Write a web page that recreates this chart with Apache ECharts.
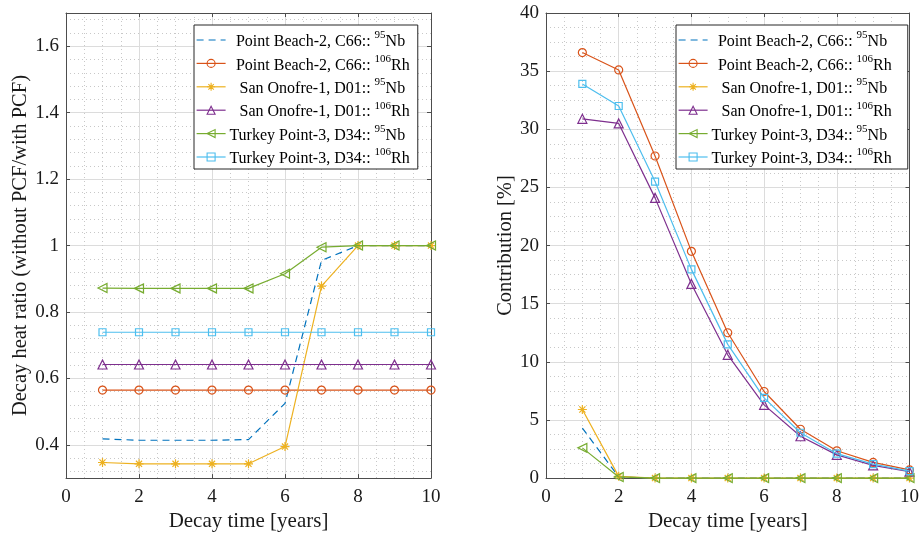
<!DOCTYPE html>
<html>
<head>
<meta charset="utf-8">
<script src="https://cdn.jsdelivr.net/npm/echarts@6/dist/echarts.min.js"></script>
<style>
html,body{margin:0;padding:0;background:#fff;}
#chart{width:922px;height:537px;}
</style>
</head>
<body>
<div id="chart"></div>
<script>
// ---- data ----
const years = [1, 2, 3, 4, 5, 6, 7, 8, 9, 10];
const sites = ['Point Beach-2, C66::', 'Point Beach-2, C66::', 'San Onofre-1, D01::', 'San Onofre-1, D01::', 'Turkey Point-3, D34::', 'Turkey Point-3, D34::'];
const massNumbers = ['95', '106', '95', '106', '95', '106'];
const elements = ['Nb', 'Rh', 'Nb', 'Rh', 'Nb', 'Rh'];

// left: decay heat ratio (without PCF / with PCF)
const ratioPB_Nb = [0.418, 0.414, 0.414, 0.414, 0.416, 0.525, 0.955, 1.0, 1.0, 1.0];
const ratioPB_Rh = [0.565, 0.565, 0.565, 0.565, 0.565, 0.565, 0.565, 0.565, 0.565, 0.565];
const ratioSO_Nb = [0.347, 0.343, 0.343, 0.343, 0.343, 0.395, 0.878, 1.0, 1.0, 1.0];
const ratioSO_Rh = [0.642, 0.642, 0.642, 0.642, 0.642, 0.642, 0.642, 0.642, 0.642, 0.642];
const ratioTP_Nb = [0.872, 0.871, 0.871, 0.871, 0.871, 0.915, 0.995, 1.0, 1.0, 1.0];
const ratioTP_Rh = [0.739, 0.739, 0.739, 0.739, 0.739, 0.739, 0.739, 0.739, 0.739, 0.739];

// right: contribution [%]
const contribPB_Nb = [4.3, 0.1, 0, 0, 0, 0, 0, 0, 0, 0];
const contribPB_Rh = [36.6, 35.1, 27.7, 19.5, 12.5, 7.45, 4.2, 2.35, 1.35, 0.7];
const contribSO_Nb = [5.9, 0.15, 0, 0, 0, 0, 0, 0, 0, 0];
const contribSO_Rh = [30.9, 30.5, 24.1, 16.7, 10.6, 6.3, 3.6, 2.0, 1.1, 0.55];
const contribTP_Nb = [2.6, 0.1, 0, 0, 0, 0, 0, 0, 0, 0];
const contribTP_Rh = [33.9, 32.0, 25.5, 17.95, 11.5, 6.9, 3.9, 2.1, 1.2, 0.6];

const xTicks = [0, 2, 4, 6, 8, 10];
const leftYTicks = [0.4, 0.6, 0.8, 1, 1.2, 1.4, 1.6];
const rightYTicks = [0, 5, 10, 15, 20, 25, 30, 35, 40];

// ---- styling ----
const FONT = 'Liberation Serif';
const colors = ['#0072BD', '#D95319', '#EDB120', '#7E2F8E', '#77AC30', '#4DBEEE'];
const STAR = 'path://M5,0L5,10M0,5L10,5M1.6,1.6L8.4,8.4M1.6,8.4L8.4,1.6';
const LTRI = 'path://M0,5L10,0L10,10Z';
const symbols = ['circle', 'circle', STAR, 'triangle', LTRI, 'rect'];
const symbolSizes = [0, 8, 9, 9, 9, 7];
const names = sites.map((s, i) => s + ' ' + massNumbers[i] + elements[i]);

const leftData = [ratioPB_Nb, ratioPB_Rh, ratioSO_Nb, ratioSO_Rh, ratioTP_Nb, ratioTP_Rh];
const rightData = [contribPB_Nb, contribPB_Rh, contribSO_Nb, contribSO_Rh, contribTP_Nb, contribTP_Rh];

function makeSeries(dataArr, xi, yi) {
  return dataArr.map((vals, i) => ({
    name: names[i],
    type: 'line',
    xAxisIndex: xi,
    yAxisIndex: yi,
    data: years.map((x, k) => [x, vals[k]]),
    symbol: symbols[i],
    symbolSize: symbolSizes[i],
    showSymbol: i !== 0,
    lineStyle: { color: colors[i], width: 1.2, type: i === 0 ? [7, 5] : 'solid' },
    itemStyle: { color: 'rgba(0,0,0,0)', borderColor: colors[i], borderWidth: 1.2 },
    emphasis: { disabled: true },
    clip: false,
    z: 3 + i
  }));
}

const gridLine = { show: true, lineStyle: { color: '#dcdcdc', width: 1 } };
const minorLine = { show: true, lineStyle: { color: '#c8c8c8', width: 1, type: [1, 3] } };
const axisLineStyle = { show: true, onZero: false, lineStyle: { color: '#4d4d4d', width: 1 } };
const tickStyle = { show: true, inside: true, length: 4, lineStyle: { color: '#4d4d4d' } };
const labelStyle = { fontFamily: FONT, fontSize: 19, color: '#1a1a1a' };
const nameStyle = { fontFamily: FONT, fontSize: 21, color: '#1a1a1a' };
const yNameStyle = { fontFamily: FONT, fontSize: 20.5, color: '#1a1a1a' };

function xMain(gi) {
  return {
    type: 'value', gridIndex: gi, min: 0, max: 10, interval: 2,
    axisLine: axisLineStyle, axisTick: tickStyle,
    axisLabel: Object.assign({ margin: 9 }, labelStyle),
    splitLine: gridLine,
    minorTick: { show: false, splitNumber: 4 },
    minorSplitLine: minorLine,
    name: 'Decay time [years]', nameLocation: 'middle', nameGap: 32,
    nameTextStyle: nameStyle
  };
}
function xTop(gi) {
  return {
    type: 'value', gridIndex: gi, position: 'top', min: 0, max: 10, interval: 2,
    axisLine: axisLineStyle, axisTick: tickStyle, axisLabel: { show: false },
    splitLine: { show: false }
  };
}

const legendData = names.map((n, i) => i === 0
  ? { name: n, itemStyle: { color: 'rgba(0,0,0,0)', borderWidth: 0, borderColor: 'rgba(0,0,0,0)' } }
  : { name: n });

const option = {
  animation: false,
  backgroundColor: '#ffffff',
  grid: [
    { left: 66, top: 13, width: 365, height: 467 },
    { left: 546, top: 13, width: 366, height: 467 }
  ],
  xAxis: [xMain(0), xTop(0), xMain(1), xTop(1)],
  yAxis: [
    {
      type: 'value', gridIndex: 0, min: 0.3, max: 1.7, splitNumber: 7,
      axisLine: axisLineStyle, axisTick: tickStyle,
      axisLabel: Object.assign({ margin: 7, showMinLabel: false, showMaxLabel: false }, labelStyle),
      splitLine: gridLine,
      minorTick: { show: false, splitNumber: 5 },
      minorSplitLine: minorLine,
      name: 'Decay heat ratio (without PCF/with PCF)', nameLocation: 'middle', nameGap: 30,
      nameTextStyle: yNameStyle
    },
    {
      type: 'value', gridIndex: 0, position: 'right', min: 0.3, max: 1.7, splitNumber: 7,
      axisLine: axisLineStyle, axisTick: tickStyle, axisLabel: { show: false },
      splitLine: { show: false }
    },
    {
      type: 'value', gridIndex: 1, min: 0, max: 40, interval: 5,
      axisLine: axisLineStyle, axisTick: tickStyle,
      axisLabel: Object.assign({ margin: 7 }, labelStyle),
      splitLine: gridLine,
      minorTick: { show: false, splitNumber: 4 },
      minorSplitLine: minorLine,
      name: 'Contribution [%]', nameLocation: 'middle', nameGap: 30,
      nameTextStyle: yNameStyle
    },
    {
      type: 'value', gridIndex: 1, position: 'right', min: 0, max: 40, interval: 5,
      axisLine: axisLineStyle, axisTick: tickStyle, axisLabel: { show: false },
      splitLine: { show: false }
    }
  ],
  legend: [0, 1].map(li => ({
    orient: 'vertical',
    left: li === 0 ? 194 : 676,
    top: 25,
    padding: li === 0 ? [5, 8, 2, 2] : [5, 16, 2, 2],
    itemWidth: 29,
    itemHeight: 10,
    itemGap: 3.4,
    backgroundColor: '#ffffff',
    borderColor: '#262626',
    borderWidth: 1,
    data: legendData,
    selectedMode: false,
    z: 20,
    itemStyle: { borderWidth: 1.1 },
    lineStyle: { width: 1.2 },
    formatter: function (n) {
      const i = names.indexOf(n);
      return '{n|' + sites[i] + ' }{s|' + massNumbers[i] + '}{e|' + elements[i] + '}';
    },
    textStyle: {
      fontFamily: FONT, fontSize: 16, color: '#000',
      rich: {
        n: { fontFamily: FONT, fontSize: 16, color: '#000', width: 144, align: 'right', lineHeight: 20, verticalAlign: 'bottom' },
        s: { fontFamily: FONT, fontSize: 11, color: '#000', align: 'right', lineHeight: 12, verticalAlign: 'top' },
        e: { fontFamily: FONT, fontSize: 16, color: '#000', align: 'right', lineHeight: 20, verticalAlign: 'bottom' }
      }
    }
  })),
  series: makeSeries(leftData, 0, 0).concat(makeSeries(rightData, 2, 2))
};

const chart = echarts.init(document.getElementById('chart'), null, { renderer: 'canvas' });
chart.setOption(option);
</script>
</body>
</html>
